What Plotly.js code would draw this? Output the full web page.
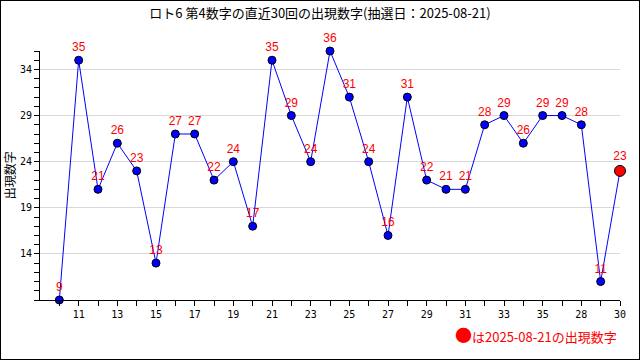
<!DOCTYPE html>
<html>
<head>
<meta charset="utf-8">
<script src="https://cdn.plot.ly/plotly-3.0.1.min.js"></script>
<style>
html,body{margin:0;padding:0;background:#fff;}
#chart{width:638px;height:358px;border:1px solid #000;}
</style>
</head>
<body>
<div id="chart"></div>
<script>
const drawIndex = [0,1,2,3,4,5,6,7,8,9,10,11,12,13,14,15,16,17,18,19,20,21,22,23,24,25,26,27,28,29];
const tickLabels = ["10","11","12","13","14","15","16","17","18","19","20","21","22","23","24","25","26","27","28","29","30","31","32","33","34","35","36","28","29","30"];
const numbers = [9,35,21,26,23,13,27,27,22,24,17,35,29,24,36,31,24,16,31,22,21,21,28,29,26,29,29,28,11,23];
const yTicks = [14,19,24,29,34];
const latestDate = "2025-08-21";

const n = numbers.length;
const markerColors = numbers.map((v,i)=> i===n-1 ? '#ff0000' : '#0000ff');
const markerSizes = numbers.map((v,i)=> i===n-1 ? 11 : 8);

const tickvals = drawIndex.filter(i=> i%2===1);
const ticktext = tickvals.map(i=> tickLabels[i]);

const trace = {
  x: drawIndex,
  y: numbers,
  mode: 'lines+markers+text',
  text: numbers.map(String),
  textposition: 'top center',
  textfont: {color:'#ff0000', size:12, family:'Liberation Sans, Arial, sans-serif'},
  line: {color:'#0000ff', width:1},
  marker: {color: markerColors, size: markerSizes, opacity: 1, line:{color:'#000000', width:1}},
  cliponaxis: false,
  hoverinfo: 'none'
};

const layout = {
  width: 638, height: 358,
  paper_bgcolor: '#ffffff', plot_bgcolor: '#ffffff',
  margin: {l:39, r:19, t:50, b:59},
  showlegend: false,
  title: {text: 'ロト6 第4数字の直近30回の出現数字(抽選日：' + latestDate + ')', x:0.5, xanchor:'center', y:0.966, yanchor:'middle',
          font:{family:'Noto Sans CJK JP, sans-serif', size:13, color:'#000'}},
  xaxis: {
    range: [-1, 29], showgrid: false, zeroline: false,
    showline: true, linecolor:'#000', linewidth: 1,
    tickmode: 'array', tickvals: tickvals, ticktext: ticktext,
    ticks: 'outside', ticklen: 5, tickcolor:'#000',
    minor: {tickmode:'array', tickvals: drawIndex.filter(i=> i%2===0), ticks:'outside', ticklen:5, tickcolor:'#000', showgrid:false},
    tickfont: {family:'DejaVu Sans Mono, monospace', size:10, color:'#000'}
  },
  yaxis: {
    range: [9, 36], zeroline: false,
    showline: true, linecolor:'#000', linewidth: 1,
    tickmode: 'array', tickvals: yTicks, ticks: 'outside', ticklen: 5, tickcolor:'#000',
    showgrid: true, gridcolor:'#d8d8d8', gridwidth:1,
    minor: {dtick:1, tick0:9, ticks:'outside', ticklen:5, tickcolor:'#000', showgrid:false},
    tickfont: {family:'DejaVu Sans Mono, monospace', size:10, color:'#000'}
  },
  annotations: [{
    xref:'paper', yref:'paper', x:-0.052, y:0.5, xanchor:'center', yanchor:'middle', showarrow:false,
    textangle: -90, text:'出現数字',
    font:{family:'Noto Sans CJK JP, sans-serif', size:12, color:'#000'}
  },{
    xref:'paper', yref:'paper', x:0.998, y:-0.137, xanchor:'right', yanchor:'middle', showarrow:false,
    text: '<span style="font-size:17px">●</span>は' + latestDate + 'の出現数字',
    font: {family:'Noto Sans CJK JP, sans-serif', size:13, color:'#ff0000'}
  }]
};

Plotly.newPlot('chart', [trace], layout, {staticPlot:true, displayModeBar:false});
</script>
</body>
</html>
